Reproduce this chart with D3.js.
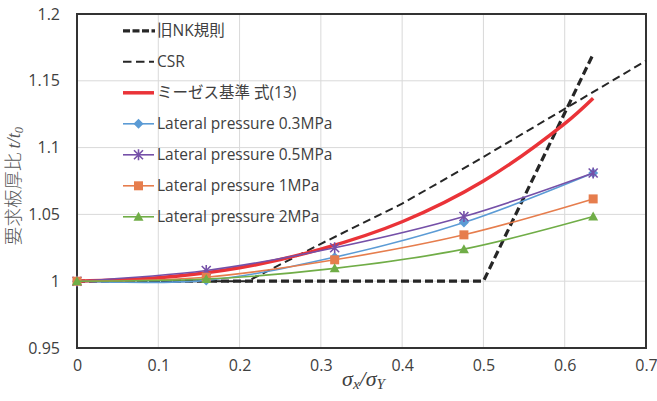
<!DOCTYPE html>
<html>
<head>
<meta charset="utf-8">
<script src="https://cdn.jsdelivr.net/npm/d3@7/dist/d3.min.js"></script>
<style>
  html, body { margin: 0; padding: 0; background: #ffffff; }
  svg { display: block; }
  .tick text { font-family: "Open Sans", "Noto Sans", sans-serif; font-size: 16px; fill: #404040; }
</style>
</head>
<body>
<svg id="chart" width="657" height="401"></svg>
<script>
// Stress ratio at which the plate-thickness ratios were evaluated
const stressRatio = [0, 0.159, 0.317, 0.476, 0.635];

// Lateral-pressure series (required thickness ratio t/t0)
const lp03 = [1.000, 1.0006, 1.018, 1.044, 1.081];
const lp05 = [1.000, 1.008, 1.025, 1.0484, 1.081];
const lp1  = [1.000, 1.003, 1.016, 1.0347, 1.0616];
const lp2  = [1.000, 1.0016, 1.0096, 1.024, 1.0484];

// Old NK rule (piecewise)
const nkX = [0, 0.5, 0.635];
const nkY = [1.000, 1.000, 1.170];

// CSR requirement
const csrX = [0, 0.21, 0.30, 0.40, 0.50, 0.60, 0.70];
const csrY = [1.000, 1.000, 1.028, 1.058, 1.093, 1.129, 1.165];

// Von Mises criterion, eq. (13)
const misesX = [0, 0.1, 0.2, 0.3, 0.4, 0.5, 0.6, 0.635];
const misesY = [1.000, 1.0025, 1.010, 1.024, 1.0445, 1.075, 1.118, 1.137];

// Axis ticks
const xTicks = [0, 0.1, 0.2, 0.3, 0.4, 0.5, 0.6, 0.7];
const xTickLabels = ["0", "0.1", "0.2", "0.3", "0.4", "0.5", "0.6", "0.7"];
const yTicks = [0.95, 1.0, 1.05, 1.1, 1.15, 1.2];
const yTickLabels = ["0.95", "1", "1.05", "1.1", "1.15", "1.2"];

// Legend labels
const legendLabels = ["旧NK規則", "CSR", "ミーゼス基準 式(13)",
  "Lateral pressure 0.3MPa", "Lateral pressure 0.5MPa",
  "Lateral pressure 1MPa", "Lateral pressure 2MPa"];

const svg = d3.select("#chart");
const plot = { left: 77, right: 646, top: 14, bottom: 348 };

const x = d3.scaleLinear().domain([0, 0.7]).range([plot.left, plot.right]);
const y = d3.scaleLinear().domain([0.95, 1.2]).range([plot.bottom, plot.top]);

// Grid lines
const grid = svg.append("g");
grid.selectAll("line.v").data(xTicks).join("line")
  .attr("x1", d => x(d)).attr("x2", d => x(d))
  .attr("y1", plot.top).attr("y2", plot.bottom)
  .attr("stroke", "#d9d9d9").attr("stroke-width", 1);
grid.selectAll("line.h").data(yTicks).join("line")
  .attr("x1", plot.left).attr("x2", plot.right)
  .attr("y1", d => y(d)).attr("y2", d => y(d))
  .attr("stroke", "#d9d9d9").attr("stroke-width", 1);

// Axes (labels only; frame drawn separately)
const xAxis = d3.axisBottom(x).tickValues(xTicks)
  .tickFormat((d, i) => xTickLabels[i]).tickSize(0).tickPadding(20);
const gx = svg.append("g").attr("transform", `translate(0,${plot.bottom})`).call(xAxis);
gx.select(".domain").remove();
gx.selectAll("text").attr("dy", "0.2em");

const yAxis = d3.axisLeft(y).tickValues(yTicks)
  .tickFormat((d, i) => yTickLabels[i]).tickSize(0).tickPadding(17);
const gy = svg.append("g").attr("transform", `translate(${plot.left},0)`).call(yAxis);
gy.select(".domain").remove();

// Plot frame
svg.append("rect")
  .attr("x", plot.left).attr("y", plot.top)
  .attr("width", plot.right - plot.left).attr("height", plot.bottom - plot.top)
  .attr("fill", "none").attr("stroke", "#333333").attr("stroke-width", 2);

const linear = d3.line().x(d => x(d[0])).y(d => y(d[1]));
const smooth = d3.line().x(d => x(d[0])).y(d => y(d[1])).curve(d3.curveCatmullRom.alpha(0.5));

const zip = (a, b) => a.map((v, i) => [v, b[i]]);

// Old NK rule
svg.append("path").datum(zip(nkX, nkY))
  .attr("d", linear).attr("fill", "none")
  .attr("stroke", "#262626").attr("stroke-width", 3.2)
  .attr("stroke-dasharray", "8 4");

// CSR
svg.append("path").datum(zip(csrX, csrY))
  .attr("d", linear).attr("fill", "none")
  .attr("stroke", "#262626").attr("stroke-width", 2)
  .attr("stroke-dasharray", "8 4.5");

// Von Mises
svg.append("path").datum(zip(misesX, misesY))
  .attr("d", smooth).attr("fill", "none")
  .attr("stroke", "#ea3338").attr("stroke-width", 3.5);

// Marker shapes
function marker(g, type, color, cx, cy) {
  if (type === "diamond") {
    g.append("path").attr("d", `M${cx},${cy - 5}L${cx + 5},${cy}L${cx},${cy + 5}L${cx - 5},${cy}Z`)
      .attr("fill", color);
  } else if (type === "star") {
    const r = 4.5;
    g.append("path")
      .attr("d", `M${cx - r},${cy - r}L${cx + r},${cy + r}M${cx - r},${cy + r}L${cx + r},${cy - r}M${cx},${cy - r - 1}L${cx},${cy + r + 1}`)
      .attr("stroke", color).attr("stroke-width", 1.6).attr("fill", "none");
  } else if (type === "square") {
    g.append("rect").attr("x", cx - 4.5).attr("y", cy - 4.5).attr("width", 9).attr("height", 9)
      .attr("fill", color);
  } else if (type === "triangle") {
    g.append("path").attr("d", `M${cx},${cy - 5}L${cx + 5},${cy + 4}L${cx - 5},${cy + 4}Z`)
      .attr("fill", color);
  }
}

const series = [
  { values: lp03, color: "#5b9bd5", marker: "diamond" },
  { values: lp05, color: "#7550a8", marker: "star" },
  { values: lp1,  color: "#e67d4d", marker: "square" },
  { values: lp2,  color: "#70ad47", marker: "triangle" }
];

series.forEach(s => {
  const g = svg.append("g");
  const pts = zip(stressRatio, s.values);
  g.append("path").datum(pts).attr("d", smooth).attr("fill", "none")
    .attr("stroke", s.color).attr("stroke-width", 1.6);
  pts.forEach(p => marker(g, s.marker, s.color, x(p[0]), y(p[1])));
});

// Legend
const legend = svg.append("g");
const legendRowY = i => 30.8 + i * 31;
const lx0 = 123, lx1 = 154;
const legendItems = [
  { kind: "nk" }, { kind: "csr" }, { kind: "mises" },
  { kind: "s", s: series[0] }, { kind: "s", s: series[1] },
  { kind: "s", s: series[2] }, { kind: "s", s: series[3] }
];
legendItems.forEach((it, i) => {
  const ly = legendRowY(i);
  if (it.kind === "nk") {
    legend.append("line").attr("x1", lx0).attr("x2", lx1 + 1).attr("y1", ly).attr("y2", ly)
      .attr("stroke", "#262626").attr("stroke-width", 3.2).attr("stroke-dasharray", "7 2.5");
  } else if (it.kind === "csr") {
    legend.append("line").attr("x1", lx0).attr("x2", lx1).attr("y1", ly).attr("y2", ly)
      .attr("stroke", "#262626").attr("stroke-width", 2).attr("stroke-dasharray", "8.5 4.5");
  } else if (it.kind === "mises") {
    legend.append("line").attr("x1", lx0).attr("x2", lx1).attr("y1", ly).attr("y2", ly)
      .attr("stroke", "#ea3338").attr("stroke-width", 3.5);
  } else {
    legend.append("line").attr("x1", lx0).attr("x2", lx1).attr("y1", ly).attr("y2", ly)
      .attr("stroke", it.s.color).attr("stroke-width", 1.6);
    marker(legend, it.s.marker, it.s.color, (lx0 + lx1) / 2, ly);
  }
  legend.append("text")
    .attr("x", 157).attr("y", ly).attr("dy", "0.36em")
    .attr("font-family", "'Open Sans', 'Noto Sans CJK JP', sans-serif")
    .attr("font-size", 15.5).attr("fill", "#404040")
    .text(legendLabels[i]);
});

// X axis title: σx/σY
const xt = svg.append("text")
  .attr("x", (plot.left + plot.right) / 2 + 2).attr("y", 386)
  .attr("text-anchor", "middle")
  .attr("font-family", "'Liberation Serif', 'DejaVu Serif', serif")
  .attr("font-style", "italic").attr("font-size", 22).attr("fill", "#404040");
xt.append("tspan").text("σ");
xt.append("tspan").attr("font-size", 15).attr("dy", 3).text("x");
xt.append("tspan").attr("dy", -3).text("/σ");
xt.append("tspan").attr("font-size", 15).attr("dy", 3).text("Y");

// Y axis title: 要求板厚比 t/t0
const yt = svg.append("text")
  .attr("transform", "translate(20,186) rotate(-90)")
  .attr("text-anchor", "middle")
  .attr("font-size", 18.5).attr("fill", "#595959");
yt.append("tspan").attr("font-family", "'Noto Sans CJK JP', sans-serif").attr("font-weight", 300)
  .text("要求板厚比 ");
yt.append("tspan").attr("font-family", "'Liberation Serif', serif").attr("font-style", "italic")
  .text("t/t");
yt.append("tspan").attr("font-family", "'Liberation Serif', serif").attr("font-style", "italic")
  .attr("font-size", 12.5).attr("dy", 3).text("0");
</script>
</body>
</html>
